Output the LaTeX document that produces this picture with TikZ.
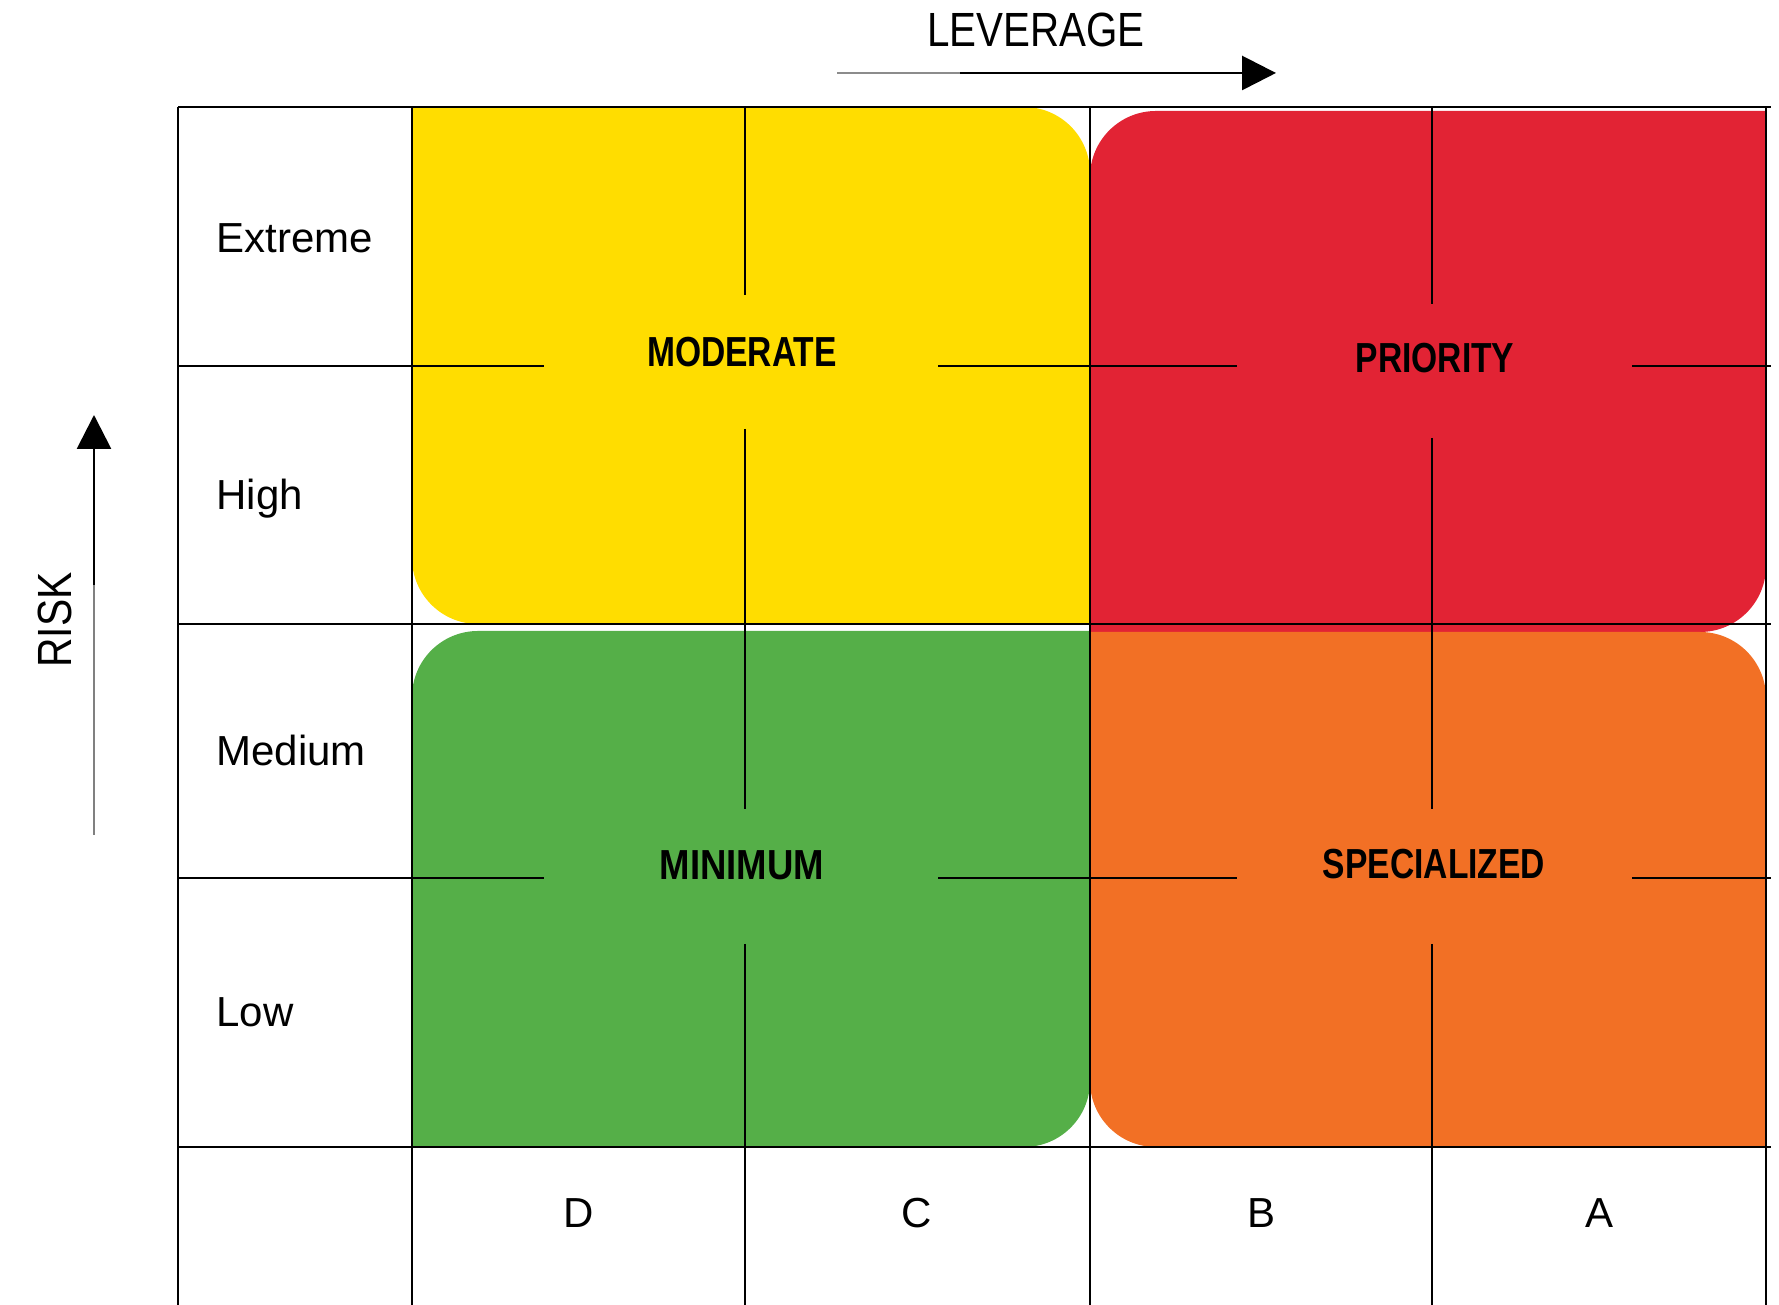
\documentclass[tikz,border=0pt]{standalone}
\usepackage{fontspec}
\setmainfont{Liberation Sans}
\usepackage{graphicx}
\usetikzlibrary{arrows.meta}
\definecolor{cyel}{RGB}{255,221,0}
\definecolor{cred}{RGB}{226,35,52}
\definecolor{cgrn}{RGB}{85,175,72}
\definecolor{corg}{RGB}{242,112,37}
\tikzset{
  grid/.style={line width=1.3pt, black},
  rowlab/.style={inner sep=0pt, anchor=base west, font=\fontsize{21}{25}\selectfont},
  collab/.style={inner sep=0pt, anchor=base, font=\fontsize{21}{25}\selectfont},
  zonelab/.style={inner sep=0pt, anchor=base, font=\fontsize{21}{25}\selectfont\bfseries},
  axislab/.style={inner sep=0pt, anchor=base, font=\fontsize{24}{28}\selectfont},
  axisarrow/.style={line width=1.4pt, -{Triangle[length=17pt,width=17pt]}},
}
\begin{document}
\begin{tikzpicture}[x=0.5pt,y=0.5pt]
\useasboundingbox (0,0) rectangle (1779,1305);
% colored zones
\fill[cyel] (412,1198) -- (1024,1198) arc[start angle=90,end angle=0,radius=33pt] -- (1090,681) -- (478,681) arc[start angle=270,end angle=180,radius=33pt] -- cycle;
\fill[cred] (1090,673) -- (1090,1128) arc[start angle=180,end angle=90,radius=33pt] -- (1766,1194) -- (1766,739) arc[start angle=0,end angle=-90,radius=33pt] -- cycle;
\fill[cgrn] (412,158) -- (412,608) arc[start angle=180,end angle=90,radius=33pt] -- (1090,674) -- (1090,224) arc[start angle=0,end angle=-90,radius=33pt] -- cycle;
\fill[corg] (1090,673) -- (1700,673) arc[start angle=90,end angle=0,radius=33pt] -- (1766,158) -- (1156,158) arc[start angle=270,end angle=180,radius=33pt] -- cycle;
% full grid lines
\draw[grid] (178,1198) -- (1771,1198);
\draw[grid] (178,681) -- (1771,681);
\draw[grid] (178,158) -- (1771,158);
\draw[grid] (178,1198) -- (178,0);
\draw[grid] (412,1198) -- (412,0);
\draw[grid] (1090,1198) -- (1090,0);
\draw[grid] (1766,1198) -- (1766,0);
% broken grid lines
\draw[grid] (745,1198) -- (745,1010) (745,876) -- (745,496) (745,361) -- (745,0);
\draw[grid] (1432,1198) -- (1432,1001) (1432,867) -- (1432,496) (1432,361) -- (1432,0);
\draw[grid] (178,939) -- (544,939) (938,939) -- (1237,939) (1632,939) -- (1771,939);
\draw[grid] (178,427) -- (544,427) (938,427) -- (1237,427) (1632,427) -- (1771,427);
% row labels
\node[rowlab] (extreme) at (216,1052) {Extreme};
\node[rowlab] (high) at (216,795) {High};
\node[rowlab] (medium) at (216,539) {Medium};
\node[rowlab] (low) at (216,278) {Low};
% column labels
\node[collab] (cd) at (579,77) {D};
\node[collab] (cc) at (917,77) {C};
\node[collab] (cb) at (1261,77) {B};
\node[collab] (ca) at (1599,77) {A};
% zone labels
\node[zonelab] (moderate) at (742,938) {\scalebox{0.8}[1]{MODERATE}};
\node[zonelab] (priority) at (1435,932) {\scalebox{0.8}[1]{PRIORITY}};
\node[zonelab] (minimum) at (742,425) {\scalebox{0.87}[1]{MINIMUM}};
\node[zonelab] (special) at (1434,426) {\scalebox{0.8}[1]{SPECIALIZED}};
% axes
\node[axislab] (lev) at (1036,1258) {\scalebox{0.84}[1]{LEVERAGE}};
\node[axislab, rotate=90] (risk) at (71,685) {\scalebox{0.85}[1]{RISK}};
\coordinate (levA) at (837,1232);
\coordinate (levM) at (960,1232);
\coordinate (levB) at (1276,1232);
\draw[line width=1.4pt, black!45] (levA) -- (levM);
\draw[axisarrow] (levM) -- (levB);
\coordinate (riskA) at (94,470);
\coordinate (riskM) at (94,720);
\coordinate (riskB) at (94,890);
\draw[line width=1.4pt, black!50] (riskA) -- (riskM);
\draw[axisarrow] (riskM) -- (riskB);
\end{tikzpicture}
\end{document}
